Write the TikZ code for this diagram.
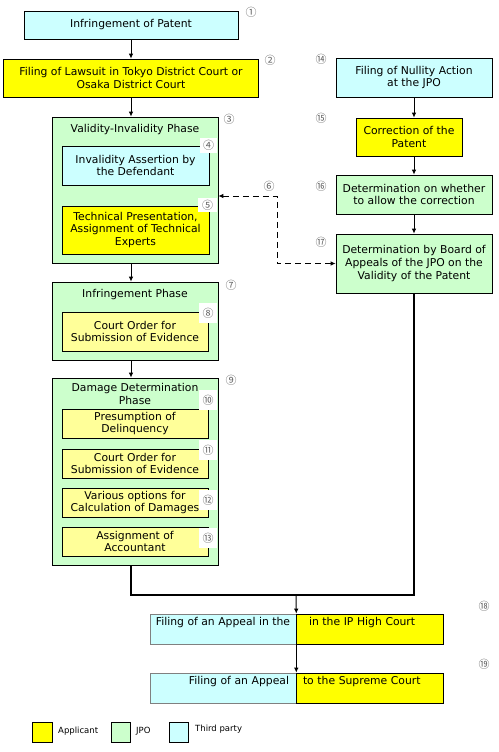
\documentclass[tikz,border=0pt]{standalone}
\usepackage{fontspec}
\setmainfont{DejaVu Sans}
\newfontfamily\cnum{Noto Sans CJK JP}
\usetikzlibrary{arrows.meta}
\definecolor{tparty}{HTML}{CCFFFF}
\definecolor{appl}{HTML}{FFFF00}
\definecolor{appllt}{HTML}{FFFF99}
\definecolor{jpo}{HTML}{CCFFCC}

\begin{document}
\begin{tikzpicture}[x=1pt,y=-1pt,inner sep=0pt,
  box/.style={draw,line width=0.6pt,align=center,font=\fontsize{10.8}{12.8}\selectfont},
  title/.style={align=center,font=\fontsize{10.8}{12.8}\selectfont},
  num/.style={fill=white,text=black!62,font=\cnum\fontsize{11}{11}\selectfont,minimum width=19,minimum height=20},
  arr/.style={-{Latex[length=5pt,width=4.5pt]},line width=1pt},
  arrtwo/.style={{Latex[length=5pt,width=4.5pt]}-{Latex[length=5pt,width=4.5pt]},line width=1pt},
  legend/.style={font=\fontsize{8.5}{9}\selectfont,anchor=west}]

\useasboundingbox (0,0) rectangle (498,752);

% left column
\node(b1) at (131,25) [box,fill=tparty,minimum width=214,minimum height=28] {Infringement of Patent};
\node(b2) at (131,78) [box,fill=appl,minimum width=255,minimum height=38] {Filing of Lawsuit in Tokyo District Court or\\Osaka District Court};

\node(p3) at (135,190) [box,fill=jpo,minimum width=166,minimum height=146] {};
\node(t3) at (135,130) [title] {Validity-Invalidity Phase};
\node(b4) at (135.5,165.5) [box,fill=tparty,minimum width=147,minimum height=39] {Invalidity Assertion by\\the Defendant};
\node(b5) at (135.5,230) [box,fill=appl,minimum width=147,minimum height=48] {Technical Presentation,\\Assignment of Technical\\Experts};

\node(p7) at (135,321) [box,fill=jpo,minimum width=166,minimum height=78] {};
\node(t7) at (135,295) [title] {Infringement Phase};
\node(b8) at (135,331.5) [box,fill=appllt,minimum width=146,minimum height=39] {Court Order for\\Submission of Evidence};

\node(p9) at (135,471.5) [box,fill=jpo,minimum width=166,minimum height=187] {};
\node(t9) at (135,394) [title] {Damage Determination\\Phase};
\node(b10) at (135,423.5) [box,fill=appllt,minimum width=146,minimum height=29] {Presumption of\\Delinquency};
\node(b11) at (135,463.5) [box,fill=appllt,minimum width=146,minimum height=29] {Court Order for\\Submission of Evidence};
\node(b12) at (135,502.5) [box,fill=appllt,minimum width=146,minimum height=29] {Various options for\\Calculation of Damages};
\node(b13) at (135,541.5) [box,fill=appllt,minimum width=146,minimum height=29] {Assignment of\\Accountant};

% right column
\node(r14) at (414,77.5) [box,fill=tparty,minimum width=156,minimum height=39] {Filing of Nullity Action\\at the JPO};
\node(r15) at (409,137) [box,fill=appl,minimum width=106,minimum height=38] {Correction of the\\Patent};
\node(r16) at (414,194.5) [box,fill=jpo,minimum width=156,minimum height=39] {Determination on whether\\to allow the correction};
\node(r17) at (414,263.5) [box,fill=jpo,minimum width=156,minimum height=59] {Determination by Board of\\Appeals of the JPO on the\\Validity of the Patent};

% appeals
\node(a18l) at (223,629) [box,draw=black!50,fill=tparty,minimum width=146,minimum height=30,text height=8pt,text depth=16pt] {Filing of an Appeal in the};
\node(a18r) at (369.5,629) [box,fill=appl,minimum width=147,minimum height=30,text height=8pt,text depth=16pt,text width=121,align=left] {in the IP High Court};
\node(a19l) at (223,688) [box,draw=black!50,fill=tparty,minimum width=146,minimum height=30,text height=8pt,text depth=16pt,text width=132,align=right] {Filing of an Appeal};
\node(a19r) at (369.5,688) [box,fill=appl,minimum width=147,minimum height=30,text height=8pt,text depth=16pt,text width=133,align=left] {to the Supreme Court};

% numbers
\node(n1) at (251,12) [num] {①};
\node(n2) at (270,60) [num] {②};
\node(n3) at (229,119) [num] {③};
\node(n4) at (208.5,145.5) [num,minimum width=17,minimum height=15] {④};
\node(n5) at (207.5,205) [num,minimum width=19,minimum height=14] {⑤};
\node(n6) at (269,186) [num] {⑥};
\node(n7) at (231,285) [num] {⑦};
\node(n8) at (208,313) [num,minimum width=18] {⑧};
\node(n9) at (231,380) [num] {⑨};
\node(n10) at (208,400) [num,minimum width=18] {⑩};
\node(n11) at (208,450) [num,minimum width=18] {⑪};
\node(n12) at (208,500) [num,minimum width=18] {⑫};
\node(n13) at (208,538) [num,minimum width=18] {⑬};
\node(n14) at (321,59) [num] {⑭};
\node(n15) at (321,118) [num] {⑮};
\node(n16) at (321,186) [num] {⑯};
\node(n17) at (321,242) [num] {⑰};
\node(n18) at (484,606) [num] {⑱};
\node(n19) at (484,664) [num] {⑲};

% connectors
\draw[arr] (b1.south) -- (b2.north);
\draw[arr] (b2.south) -- (b2.south |- p3.north);
\draw[arr] (p3.south -| b2) -- (b2 |- p7.north);
\draw[arr] (p7.south -| b2) -- (b2 |- p9.north);
\draw[arr] (r14.south) -- (r14.south |- r15.north);
\draw[arr] (r15.south -| r14) -- (r14 |- r16.north);
\draw[arr] (r16.south) -- (r17.north);

\coordinate (d6) at (277,196);
\draw[arrtwo,dashed,dash pattern=on 6pt off 4pt] (p3.east |- d6) -- (d6) |- (r17.west);

\coordinate (j18) at (296,595);
\draw[line width=1.5pt] (p9.south -| b2) |- (j18) -| (r17.south);
\draw[arr] (j18) -- (a18l.north east);
\draw[arr] (a18l.south east) -- (a19l.north east);

% legend
\node(ly) at (42,732) [draw,fill=appl,minimum width=20,minimum height=20] {};
\node(lyt) at (58,731) [legend] {Applicant};
\node(lg) at (121,732) [draw,fill=jpo,minimum width=19,minimum height=20] {};
\node(lgt) at (136,731) [legend] {JPO};
\node(lc) at (178.5,732) [draw,fill=tparty,minimum width=19,minimum height=20] {};
\node(lct) at (195,729) [legend] {Third party};

\end{tikzpicture}
\end{document}
